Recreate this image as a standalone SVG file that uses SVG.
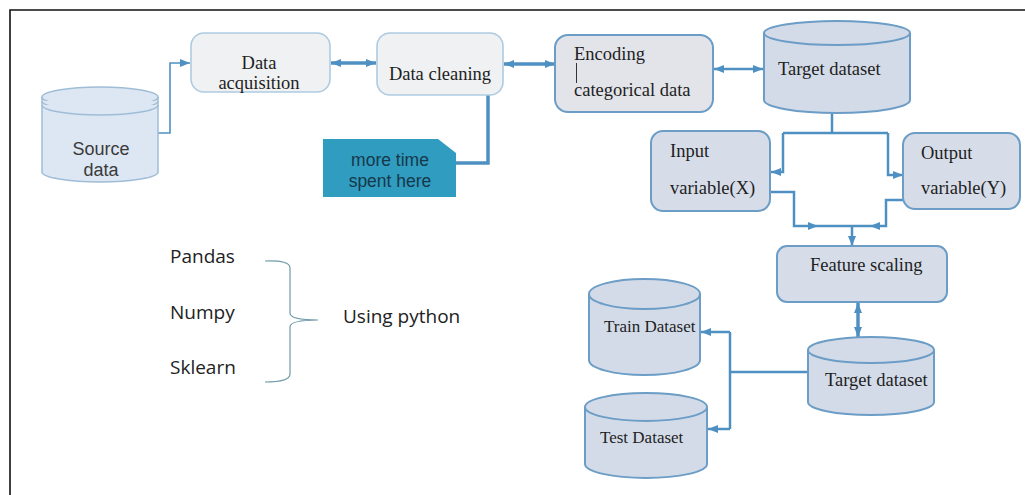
<svg xmlns="http://www.w3.org/2000/svg" width="1025" height="495" viewBox="0 0 1025 495">
  <defs>
    <style>
      .frame { stroke: #111; stroke-width: 1.6; fill: none; }
      .soft { fill: #eff1f3; stroke: #aecbe2; stroke-width: 1.6; }
      .box { fill: #d6dde9; stroke: #6b9dc6; stroke-width: 2; }
      .enc { fill: #e2e4ea; stroke: #6b9dc6; stroke-width: 2; }
      .cyl { fill: #d3dbe8; stroke: #6b9dc6; stroke-width: 2; }
      .src { fill: #dce7f3; stroke: #9fbdd7; stroke-width: 1.5; }
      .serif { font-family: "Liberation Serif", "Times New Roman", serif; fill: #1e1e1e; font-size: 18.5px; }
      .sm { font-size: 17px; }
      .sans { font-family: "Liberation Sans", Arial, sans-serif; font-size: 18px; fill: #3a3a3a; }
      .note { font-family: "Liberation Sans", Arial, sans-serif; font-size: 17.5px; fill: #17384a; }
      .calib { font-family: "Open Sans", "Liberation Sans", sans-serif; font-size: 19px; fill: #222; }
      .wire { stroke: #4f90c2; fill: none; stroke-width: 2.5; }
      .thick { stroke-width: 3.5; }
      .thin { stroke-width: 1.6; }
    </style>
    <marker id="arr" viewBox="0 0 10 8" markerWidth="10" markerHeight="8" refX="10" refY="4" orient="auto-start-reverse" markerUnits="userSpaceOnUse">
      <path d="M0,0 L10,4 L0,8 z" fill="#4f90c2"/>
    </marker>
  </defs>

  <rect width="1025" height="495" fill="#ffffff"/>
  <!-- page frame -->
  <path class="frame" d="M10,495 L10,10 L1025,10"/>

  <!-- connectors -->
  <g id="connectors">
    <path class="wire thin" d="M158,133 L170,133 L170,63 L190,63" marker-end="url(#arr)"/>
    <path class="wire thick" d="M331,63 L376,63" marker-start="url(#arr)" marker-end="url(#arr)"/>
    <path class="wire thick" d="M504,64 L555,64" marker-start="url(#arr)" marker-end="url(#arr)"/>
    <path class="wire thick" d="M488,95 L488,163 L456,163"/>
    <path class="wire" d="M714,69 L763,69" marker-start="url(#arr)" marker-end="url(#arr)"/>
    <path class="wire" d="M832,113 L832,133"/>
    <path class="wire" d="M783,133 L888,133"/>
    <path class="wire" d="M783,133 L783,172 L771,172" marker-end="url(#arr)"/>
    <path class="wire" d="M888,133 L888,175 L903,175" marker-end="url(#arr)"/>
    <path class="wire" d="M770,192 L794,192 L794,226 L818,226" marker-end="url(#arr)"/>
    <path class="wire" d="M903,200 L886,200 L886,226 L870,226" marker-end="url(#arr)"/>
    <path class="wire" d="M818,226 L870,226"/>
    <path class="wire" d="M852,226 L852,246" marker-end="url(#arr)"/>
    <path class="wire thick" d="M858,303 L858,337" marker-start="url(#arr)" marker-end="url(#arr)"/>
    <path class="wire" d="M808,372 L730,372"/>
    <path class="wire" d="M730,332 L730,429"/>
    <path class="wire" d="M730,332 L701,332" marker-end="url(#arr)"/>
    <path class="wire" d="M730,429 L708,429" marker-end="url(#arr)"/>
  </g>

  <!-- Source data -->
  <g id="source-data">
    <path class="src" d="M42,97 L42,172 A58,10 0 0 0 158,172 L158,97 A58,10 0 0 0 42,97 Z"/>
    <path class="src" d="M42,97 A58,10 0 0 0 158,97" fill="none"/>
    <path class="src" d="M42,101 A58,10 0 0 0 158,101" fill="none"/>
    <path class="src" d="M42,105 A58,10 0 0 0 158,105" fill="none"/>
    <text class="sans" x="101" y="155" text-anchor="middle">Source</text>
    <text class="sans" x="101" y="176" text-anchor="middle">data</text>
  </g>

  <!-- Data acquisition -->
  <g id="data-acquisition">
    <rect class="soft" x="191" y="33" width="139" height="59" rx="13"/>
    <text class="serif" x="259" y="69" text-anchor="middle">Data</text>
    <text class="serif" x="259" y="89" text-anchor="middle">acquisition</text>
  </g>

  <!-- Data cleaning -->
  <g id="data-cleaning">
    <rect class="soft" x="377" y="33" width="126" height="62" rx="13"/>
    <text class="serif" x="440" y="80" text-anchor="middle">Data cleaning</text>
  </g>

  <!-- Note -->
  <g id="note">
    <path d="M323,139 L438,139 L456,153 L456,197 L323,197 Z" fill="#2f9cc0"/>
    <text class="note" x="390" y="166" text-anchor="middle">more time</text>
    <text class="note" x="390" y="187" text-anchor="middle">spent here</text>
  </g>

  <!-- Encoding categorical data -->
  <g id="encoding">
    <rect class="enc" x="555" y="35" width="158" height="77" rx="13"/>
    <text class="serif" x="574" y="60">Encoding</text>
    <line x1="576.5" y1="63" x2="576.5" y2="83" stroke="#333" stroke-width="1"/>
    <text class="serif" x="574" y="96">categorical data</text>
  </g>

  <!-- Target dataset (top) -->
  <g id="target-dataset-1">
    <path class="cyl" d="M764,33 L764,100 A73,13 0 0 0 910,100 L910,33 A73,12 0 0 0 764,33 Z"/>
    <path class="cyl" d="M764,33 A73,12 0 0 0 910,33" fill="none"/>
    <text class="serif" x="778" y="75">Target dataset</text>
  </g>

  <!-- Input variable -->
  <g id="input-variable">
    <rect class="box" x="651" y="131" width="119" height="80" rx="12"/>
    <text class="serif" x="670" y="157">Input</text>
    <text class="serif" x="670" y="194">variable(X)</text>
  </g>

  <!-- Output variable -->
  <g id="output-variable">
    <rect class="box" x="903" y="133" width="117" height="76" rx="12"/>
    <text class="serif" x="921" y="159">Output</text>
    <text class="serif" x="921" y="194">variable(Y)</text>
  </g>

  <!-- Feature scaling -->
  <g id="feature-scaling">
    <rect class="box" x="777" y="246" width="170" height="56" rx="10"/>
    <text class="serif" x="810" y="271">Feature scaling</text>
  </g>

  <!-- Target dataset (bottom) -->
  <g id="target-dataset-2">
    <path class="cyl" d="M808,350 L808,402 A63,13 0 0 0 934,402 L934,350 A63,13 0 0 0 808,350 Z"/>
    <path class="cyl" d="M808,350 A63,13 0 0 0 934,350" fill="none"/>
    <text class="serif" x="825" y="386">Target dataset</text>
  </g>

  <!-- Train Dataset -->
  <g id="train-dataset">
    <path class="cyl" d="M589,294 L589,360 A55.5,15 0 0 0 700,360 L700,294 A55.5,15 0 0 0 589,294 Z"/>
    <path class="cyl" d="M589,294 A55.5,15 0 0 0 700,294" fill="none"/>
    <text class="serif sm" x="604" y="332">Train Dataset</text>
  </g>

  <!-- Test Dataset -->
  <g id="test-dataset">
    <path class="cyl" d="M585,407 L585,464 A61,14 0 0 0 707,464 L707,407 A61,14 0 0 0 585,407 Z"/>
    <path class="cyl" d="M585,407 A61,14 0 0 0 707,407" fill="none"/>
    <text class="serif sm" x="600" y="443">Test Dataset</text>
  </g>

  <!-- Python libraries -->
  <g id="libraries">
    <text class="calib" x="170" y="263">Pandas</text>
    <text class="calib" x="170" y="319">Numpy</text>
    <text class="calib" x="170" y="374">Sklearn</text>
    <path d="M265,261 Q290,260 290,268 L290,313 Q290,320 318,320 Q290,320 290,327 L290,374 Q290,382 265,382" fill="none" stroke="#6f9aa8" stroke-width="1.2"/>
    <text class="calib" x="343" y="323">Using python</text>
  </g>
</svg>
